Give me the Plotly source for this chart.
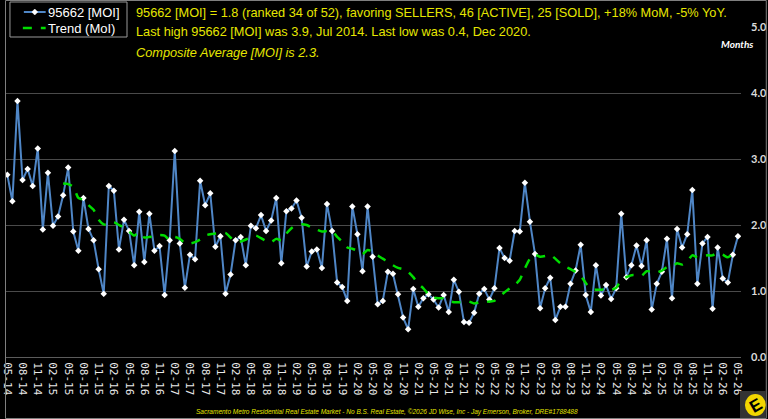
import plotly.graph_objects as go

# ---- data ----
months = [f"{(4 + i) % 12 + 1:02d}-{(14 + (4 + i) // 12) % 100:02d}" for i in range(145)]

moi = [
    2.76, 2.36, 3.88, 2.68, 2.85, 2.59, 3.16, 1.93, 2.79, 1.99, 2.13, 2.45, 2.87, 1.90, 1.61,
    2.41, 1.94, 1.77, 1.33, 0.96, 2.59, 2.52, 1.63, 2.08, 1.91, 1.39, 2.20, 1.44, 2.17,
    1.61, 1.68, 0.94, 1.77, 3.12, 1.72, 1.05, 1.55, 1.48, 2.67, 2.30, 2.48, 1.67, 1.83, 0.96,
    1.25, 1.77, 1.82, 1.39, 1.99, 1.95, 2.15, 1.91, 2.07, 2.41, 1.42, 2.21, 2.25, 2.37,
    2.11, 1.37, 1.60, 1.63, 1.35, 2.32, 1.91, 1.13, 1.06, 0.85, 2.28, 1.86, 1.30, 2.28, 1.52,
    0.80, 0.85, 1.29, 1.26, 0.95, 0.60, 0.42, 1.03, 0.76, 0.89, 0.95, 0.87, 0.75, 0.94,
    0.68, 1.17, 0.99, 0.53, 0.52, 0.67, 0.96, 1.03, 0.87, 1.04, 1.65, 1.50, 1.46, 1.91, 1.90,
    2.64, 2.05, 1.56, 0.74, 1.04, 1.20, 0.56, 0.76, 0.76, 1.11, 1.31, 1.70, 0.94, 0.68,
    1.39, 0.93, 1.09, 0.88, 1.04, 2.17, 1.21, 1.39, 1.69, 1.38, 1.77, 0.72, 1.11, 1.29, 1.79,
    0.89, 1.94, 1.66, 1.86, 2.53, 1.11, 1.72, 1.82, 0.73, 1.66, 1.19, 1.13, 1.55, 1.83,
]

trend = [None] * 11 + [
    2.63, 2.62, 2.58, 2.41, 2.38, 2.30, 2.23, 2.08, 2.01, 2.00, 2.04, 2.00, 1.96, 1.90, 1.84,
    1.89, 1.81, 1.82,
    1.82, 1.85, 1.84, 1.77, 1.82, 1.79, 1.73, 1.72, 1.74, 1.78, 1.84, 1.86, 1.87, 1.88, 1.88,
    1.81, 1.74, 1.75, 1.78, 1.81, 1.84, 1.80, 1.76, 1.74, 1.79, 1.77, 1.87, 1.95, 2.00,
    2.01, 2.00, 1.96, 1.93, 1.90, 1.91, 1.91, 1.82, 1.75, 1.66, 1.64, 1.61, 1.56, 1.62, 1.60,
    1.54, 1.49, 1.44, 1.39, 1.35, 1.33, 1.29, 1.21, 1.11, 1.04, 0.95, 0.90, 0.89, 0.89,
    0.85, 0.83, 0.83, 0.84, 0.84, 0.81, 0.83, 0.83, 0.84, 0.85, 0.92, 0.98, 1.04, 1.09, 1.17,
    1.34, 1.49, 1.55, 1.52, 1.53, 1.55, 1.49, 1.42, 1.37, 1.33, 1.29, 1.23, 1.12, 1.03,
    1.02, 1.02, 1.03, 1.02, 1.05, 1.17, 1.21, 1.24, 1.24, 1.23, 1.30, 1.29, 1.28, 1.31, 1.36,
    1.37, 1.42, 1.40, 1.45, 1.54, 1.51, 1.53, 1.54, 1.54, 1.58, 1.55, 1.51, 1.56, 1.56,
]

tick_labels = months[::3]
y_ticks = [0, 1, 2, 3, 4, 5]
y_tick_labels = ["0.0", "1.0", "2.0", "3.0", "4.0", "5.0"]

series_names = ["95662 [MOI]", "Trend (MoI)"]
line1 = "95662 [MOI] = 1.8 (ranked 34 of 52), favoring SELLERS, 46 [ACTIVE], 25 [SOLD], +18% MoM, -5% YoY."
line2 = "Last high 95662 [MOI] was 3.9, Jul 2014. Last low was 0.4, Dec 2020."
line3 = "<i>Composite Average [MOI] is 2.3.</i>"
footer = "<i>Sacramento Metro Residential Real Estate Market - No B.S. Real Estate, ©2026 JD Wise, Inc - Jay Emerson, Broker, DRE#1788488</i>"

# ---- figure ----
W, H = 768, 419
L, R, T, B = 1, 26, 27, 62
pw, ph = W - L - R, H - T - B

def px(x):
    return (x - L) / pw

def py(y):
    return (H - B - y) / ph

YEL = "#e6e600"
BLUE = "#4f86c6"
GREEN = "#00dd00"

fig = go.Figure()
fig.add_trace(go.Scatter(
    x=months, y=moi, name=series_names[0], mode="lines+markers",
    line=dict(color=BLUE, width=2),
    marker=dict(symbol="diamond", size=5, color="white"),
    hoverinfo="skip", showlegend=False,
))
fig.add_trace(go.Scatter(
    x=months, y=trend, name=series_names[1], mode="lines",
    line=dict(color=GREEN, width=2.5, dash="dash", shape="spline", smoothing=0.6),
    connectgaps=False, hoverinfo="skip", showlegend=False,
))

# legend drawn as shapes + text (compact, like the reference)
d = 3
diamond = (f"M {px(30 - d)},{py(12)} L {px(30)},{py(12 - d)} "
           f"L {px(30 + d)},{py(12)} L {px(30)},{py(12 + d)} Z")

shapes = [
    dict(type="rect", xref="paper", yref="paper",
         x0=px(0.5), x1=px(767.5), y0=py(418.5), y1=py(0.5),
         line=dict(color="#7f7f7f", width=1), layer="above"),
    dict(type="rect", xref="paper", yref="paper",
         x0=px(5), x1=px(123), y0=py(37), y1=py(2),
         fillcolor="black", line=dict(color="#9a9a9a", width=1), layer="above"),
    dict(type="line", xref="paper", yref="paper",
         x0=px(19), x1=px(41), y0=py(12), y1=py(12),
         line=dict(color=BLUE, width=2), layer="above"),
    dict(type="path", xref="paper", yref="paper", path=diamond,
         fillcolor="white", line=dict(color="white", width=0.5), layer="above"),
    dict(type="line", xref="paper", yref="paper",
         x0=px(18), x1=px(41), y0=py(28), y1=py(28),
         line=dict(color=GREEN, width=2.5, dash="dash"), layer="above"),
    dict(type="rect", xref="paper", yref="paper",
         x0=px(741), x1=px(767), y0=py(418), y1=py(391),
         fillcolor="#333333", line=dict(width=0)),
    dict(type="circle", xref="paper", yref="paper",
         x0=px(746), x1=px(767), y0=py(416), y1=py(394),
         fillcolor="#f2d600", line=dict(width=0)),
]

fig.update_layout(
    width=W, height=H,
    margin=dict(l=L, r=R, t=T, b=B, pad=0),
    paper_bgcolor="black", plot_bgcolor="black",
    showlegend=False,
    xaxis=dict(
        type="category", range=[-0.26, 144.6],
        tickmode="array", tickvals=tick_labels, ticktext=tick_labels,
        tickangle=90, showgrid=False, zeroline=False,
        showline=True, linecolor="#5c5c5c", linewidth=1,
        ticks="", ticklabelstandoff=2,
        tickfont=dict(family="DejaVu Sans Mono", size=11, color="#e8e8e8"),
    ),
    yaxis=dict(
        side="right", range=[0, 5],
        tickmode="array", tickvals=y_ticks, ticktext=y_tick_labels,
        showgrid=True, gridcolor="#4a4a4a", gridwidth=1,
        zeroline=True, zerolinecolor="#5c5c5c",
        showline=False, ticks="", ticklabelstandoff=9,
        tickfont=dict(family="Lato", size=11, color="#dcdcdc", weight="bold"),
    ),
    shapes=shapes,
    annotations=[
        dict(text=series_names[0], x=px(41), y=py(12), xref="paper", yref="paper",
             xanchor="left", yanchor="middle", showarrow=False,
             font=dict(family="Liberation Sans", size=13, color="white")),
        dict(text=series_names[1], x=px(41), y=py(28), xref="paper", yref="paper",
             xanchor="left", yanchor="middle", showarrow=False,
             font=dict(family="Liberation Sans", size=13, color="white")),
        dict(text=line1, x=px(130), y=py(12), xref="paper", yref="paper",
             xanchor="left", yanchor="middle", showarrow=False,
             font=dict(family="Liberation Sans", size=12.75, color=YEL)),
        dict(text=line2, x=px(130), y=py(32), xref="paper", yref="paper",
             xanchor="left", yanchor="middle", showarrow=False,
             font=dict(family="Liberation Sans", size=12.75, color=YEL)),
        dict(text=line3, x=px(130), y=py(53), xref="paper", yref="paper",
             xanchor="left", yanchor="middle", showarrow=False,
             font=dict(family="Liberation Sans", size=12.75, color=YEL)),
        dict(text="<b><i>Months</i></b>", x=px(738), y=py(44), xref="paper", yref="paper",
             xanchor="center", yanchor="middle", showarrow=False,
             font=dict(family="Lato", size=10, color="white")),
        dict(text=footer, x=px(385), y=py(412), xref="paper", yref="paper",
             xanchor="center", yanchor="middle", showarrow=False,
             font=dict(family="Liberation Sans", size=6.5, color=YEL)),
        dict(text="<b>E</b>", x=px(757), y=py(405), xref="paper", yref="paper",
             xanchor="center", yanchor="middle", showarrow=False, textangle=-30,
             font=dict(family="Liberation Sans", size=17, color="black")),
    ],
)

fig.write_html("out.html")
